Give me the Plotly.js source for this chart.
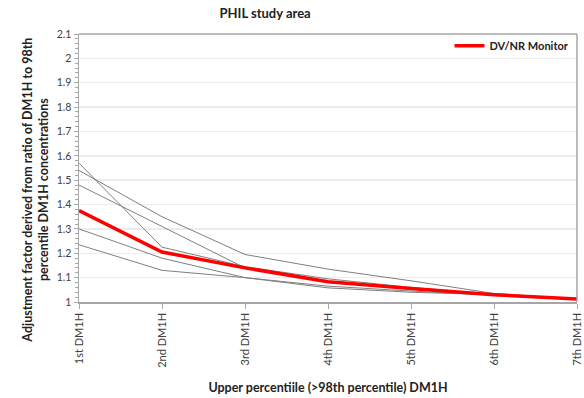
<!DOCTYPE html>
<html><head><meta charset="utf-8">
<script src="https://cdn.plot.ly/plotly-3.0.1.min.js"></script>
<style>html,body{margin:0;padding:0;background:#fff}#c{width:584px;height:398px}</style>
</head><body><div id="c"></div>
<script>
const categories = ["1st DM1H","2nd DM1H","3rd DM1H","4th DM1H","5th DM1H","6th DM1H","7th DM1H"];
const site1 = [1.57, 1.225, 1.145, 1.095, 1.060, 1.032, 1.012];
const site2 = [1.54, 1.35, 1.195, 1.135, 1.087, 1.035, 1.012];
const site3 = [1.48, 1.31, 1.14, 1.085, 1.055, 1.030, 1.012];
const site4 = [1.30, 1.18, 1.10, 1.065, 1.045, 1.028, 1.011];
const site5 = [1.235, 1.13, 1.10, 1.058, 1.040, 1.030, 1.011];
const dvnr = [1.375, 1.205, 1.14, 1.083, 1.055, 1.030, 1.012];
const greySeries = [site1, site2, site3, site4, site5];

const traces = greySeries.map(s => ({x: categories, y: s, type: 'scatter', mode: 'lines',
  line: {color: '#7f7f7f', width: 1}, showlegend: false, hoverinfo: 'skip'}));
traces.push({x: categories, y: dvnr, type: 'scatter', mode: 'lines', name: 'DV/NR Monitor',
  line: {color: '#ff0000', width: 3.5}});

const f = 'Lato, "Open Sans", sans-serif';
Plotly.newPlot('c', traces, {
  width: 584, height: 398,
  margin: {l: 79, r: 7, t: 34, b: 96},
  paper_bgcolor: '#fff', plot_bgcolor: '#fff',
  font: {family: f, size: 10, color: '#404040'},
  title: {text: '<b>PHIL study area</b>', x: 0.454, xanchor: 'center', y: 0.965, yanchor: 'middle',
    font: {family: f, size: 13, color: '#222'}},
  showlegend: true,
  legend: {x: 0.995, xanchor: 'right', y: 1.01, yanchor: 'top', bgcolor: 'rgba(0,0,0,0)',
    font: {family: f, size: 11, color: '#222', weight: 'bold'}, itemwidth: 30},
  xaxis: {type: 'category', range: [0, 6], tickangle: -90, showgrid: false,
    showline: true, linecolor: '#a6a6a6', linewidth: 1.5, mirror: false,
    ticks: 'outside', ticklen: 5, tickcolor: '#a6a6a6',
    tickfont: {family: f, size: 11, color: '#404040'},
    title: {text: '<b>Upper percentiile (>98th percentile) DM1H</b>', standoff: 16,
      font: {family: f, size: 12.5, color: '#222'}}},
  yaxis: {range: [1, 2.1], dtick: 0.1, tickformat: '', showgrid: true, gridcolor: '#ececec', gridwidth: 1.5,
    zeroline: false, showline: true, linecolor: '#a6a6a6', linewidth: 1.5,
    ticks: 'outside', ticklen: 4, tickcolor: '#a6a6a6',
    minor: {dtick: 0.02, ticks: 'outside', ticklen: 3, tickcolor: '#a6a6a6', showgrid: false},
    tickfont: {family: f, size: 10.5, color: '#404040'}},
  annotations: [{text: '<b>Adjustment factor derived from ratio of DM1H to 98th<br>percentile DM1H concentrations</b>',
    xref: 'paper', yref: 'paper', x: -0.087, y: 0.418, xanchor: 'center', yanchor: 'middle',
    textangle: -90, showarrow: false, font: {family: f, size: 12.5, color: '#222'}}],
  shapes: [
    {type: 'line', xref: 'paper', yref: 'paper', x0: 0, x1: 1, y0: 1, y1: 1, line: {color: '#a6a6a6', width: 1.5}},
    {type: 'line', xref: 'paper', yref: 'paper', x0: 1, x1: 1, y0: 0, y1: 1, line: {color: '#a6a6a6', width: 1.5}}
  ]
}, {displayModeBar: false, staticPlot: true});
</script></body></html>
